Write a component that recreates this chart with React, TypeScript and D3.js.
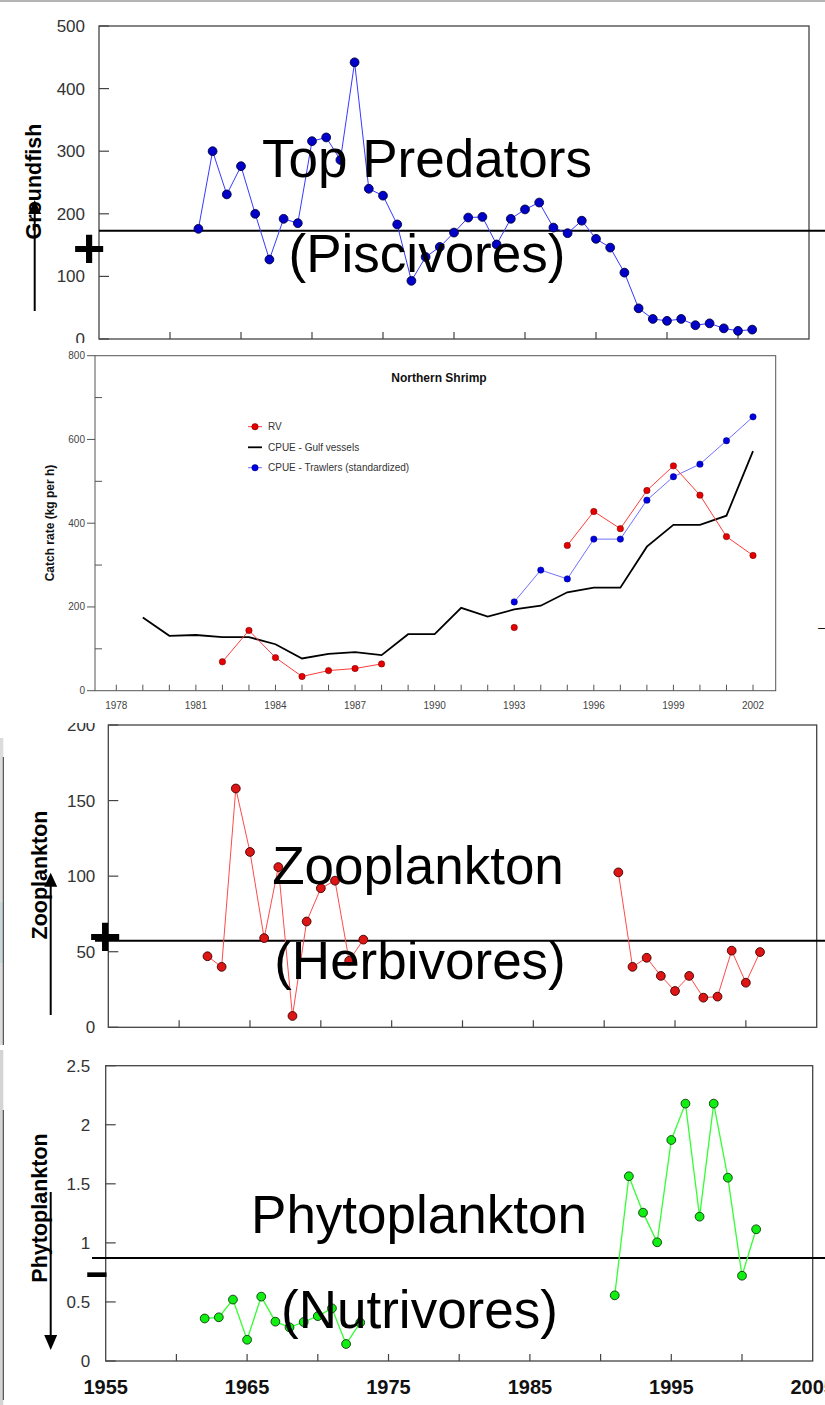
import React from "react";
import * as d3 from "d3";

const FONT = "'Liberation Sans', Arial, Helvetica, sans-serif";

// ---------- Groundfish (Top predators) ----------
const gfYears = [1962, 1963, 1964, 1965, 1966, 1967, 1968, 1969, 1970, 1971, 1972, 1973, 1974, 1975, 1976, 1977, 1978, 1979, 1980, 1981, 1982, 1983, 1984, 1985, 1986, 1987, 1988, 1989, 1990, 1991, 1992, 1993, 1994, 1995, 1996, 1997, 1998, 1999, 2000, 2001];
const gfValues = [176, 300, 231, 276, 200, 127, 192, 185, 316, 322, 286, 442, 240, 229, 183, 93, 131, 147, 170, 194, 195, 151, 192, 207, 218, 178, 169, 189, 160, 146, 106, 49, 32, 29, 32, 22, 25, 17, 13, 15];
const gfMean = 173;
const gfYTicks = [0, 100, 200, 300, 400, 500];

// ---------- Northern shrimp ----------
const shrimpGulfYears = [1979, 1980, 1981, 1982, 1983, 1984, 1985, 1986, 1987, 1988, 1989, 1990, 1991, 1992, 1993, 1994, 1995, 1996, 1997, 1998, 1999, 2000, 2001, 2002];
const shrimpGulfValues = [175, 131, 133, 128, 128, 111, 77, 88, 92, 85, 135, 135, 198, 177, 194, 203, 235, 246, 246, 344, 396, 396, 418, 572];
const shrimpRVYears = [1982, 1983, 1984, 1985, 1986, 1987, 1988, 1993, 1995, 1996, 1997, 1998, 1999, 2000, 2001, 2002];
const shrimpRVValues = [69, 144, 79, 34, 48, 53, 64, 151, 347, 428, 387, 478, 537, 467, 368, 323];
const shrimpTrawlYears = [1993, 1994, 1995, 1996, 1997, 1998, 1999, 2000, 2001, 2002];
const shrimpTrawlValues = [212, 288, 267, 362, 362, 455, 511, 541, 597, 654];
const shrimpYMajor = [0, 200, 400, 600, 800];
const shrimpYMinor = [100, 300, 500, 700];
const shrimpXTickYears = [1978, 1979, 1980, 1981, 1982, 1983, 1984, 1985, 1986, 1987, 1988, 1989, 1990, 1991, 1992, 1993, 1994, 1995, 1996, 1997, 1998, 1999, 2000, 2001, 2002];
const shrimpXLabelYears = [1978, 1981, 1984, 1987, 1990, 1993, 1996, 1999, 2002];
const shrimpLegend = ["RV", "CPUE - Gulf vessels", "CPUE - Trawlers (standardized)"];

// ---------- Zooplankton ----------
const zooYears = [1962, 1963, 1964, 1965, 1966, 1967, 1968, 1969, 1970, 1971, 1972, 1973, 1991, 1992, 1993, 1994, 1995, 1996, 1997, 1998, 1999, 2000, 2001];
const zooValues = [47, 40, 158, 116, 59, 106, 7.5, 70, 92, 97, 44, 58, 102.5, 40, 46, 34, 24, 34, 19.6, 20.3, 50.7, 29.5, 49.8];
const zooMean = 57.3;
const zooYTicks = [0, 50, 100, 150, 200];

// ---------- Phytoplankton ----------
const phyYears = [1962, 1963, 1964, 1965, 1966, 1967, 1968, 1969, 1970, 1971, 1972, 1973, 1991, 1992, 1993, 1994, 1995, 1996, 1997, 1998, 1999, 2000, 2001];
const phyValues = [0.36, 0.37, 0.52, 0.18, 0.545, 0.333, 0.285, 0.33, 0.38, 0.446, 0.144, 0.325, 0.556, 1.564, 1.256, 1.005, 1.871, 2.179, 1.222, 2.179, 1.552, 0.722, 1.115];
const phyMean = 0.872;
const phyYTicks = [0, 0.5, 1, 1.5, 2, 2.5];

const yearDomain = [1955, 2005];
const fiveYearTicks = [1960, 1965, 1970, 1975, 1980, 1985, 1990, 1995, 2000];
const decadeLabels = [1955, 1965, 1975, 1985, 1995, 2005];

function segments(years: number[], values: number[]) {
  const segs: [number, number][][] = [];
  let cur: [number, number][] = [];
  years.forEach((y, i) => {
    if (cur.length && y - cur[cur.length - 1][0] > 1) {
      segs.push(cur);
      cur = [];
    }
    cur.push([y, values[i]]);
  });
  if (cur.length) segs.push(cur);
  return segs;
}

type PanelProps = {
  left: number; right: number; top: number; bottom: number;
  yDomain: [number, number]; yTicks: number[]; labelGap: number;
  years: number[]; values: number[]; mean: number; meanStart: number;
  lineColor: string; dotFill: string; dotStroke: string; lineWidth: number;
};

function TrophicPanel(p: PanelProps) {
  const x = d3.scaleLinear().domain(yearDomain).range([p.left, p.right]);
  const y = d3.scaleLinear().domain(p.yDomain).range([p.bottom, p.top]);
  const line = d3.line<[number, number]>().x((d) => x(d[0])).y((d) => y(d[1]));
  const segs = segments(p.years, p.values);
  return (
    <g>
      <rect x={p.left} y={p.top} width={p.right - p.left} height={p.bottom - p.top} fill="none" stroke="#444" strokeWidth={1.3} />
      {p.yTicks.map((t) => (
        <g key={"y" + t}>
          <line x1={p.left} x2={p.left + 10} y1={y(t)} y2={y(t)} stroke="#444" strokeWidth={1.2} />
          <text x={p.left - p.labelGap} y={y(t) + 6} textAnchor="end" fontSize={17} fill="#333" fontFamily={FONT}>{t}</text>
        </g>
      ))}
      {fiveYearTicks.map((t) => (
        <line key={"x" + t} x1={x(t)} x2={x(t)} y1={p.bottom} y2={p.bottom - 7} stroke="#444" strokeWidth={1.2} />
      ))}
      <line x1={p.meanStart} x2={825} y1={y(p.mean)} y2={y(p.mean)} stroke="#000" strokeWidth={2} />
      {segs.map((s, i) => (
        <path key={"l" + i} d={line(s) || ""} fill="none" stroke={p.lineColor} strokeWidth={p.lineWidth} />
      ))}
      {p.years.map((yr, i) => (
        <circle key={"c" + yr} cx={x(yr)} cy={y(p.values[i])} r={4.4} fill={p.dotFill} stroke={p.dotStroke} strokeWidth={0.9} />
      ))}
    </g>
  );
}

function ShrimpPanel() {
  const left = 95, right = 775.7, top = 355.7, bottom = 690.7;
  const x = d3.scaleLinear().domain([1978, 2002]).range([116.3, 753]);
  const y = d3.scaleLinear().domain([0, 800]).range([bottom, top]);
  const line = d3.line<[number, number]>().x((d) => x(d[0])).y((d) => y(d[1]));
  const rvSegs = segments(shrimpRVYears, shrimpRVValues);
  const trSegs = segments(shrimpTrawlYears, shrimpTrawlValues);
  const gulf = shrimpGulfYears.map((yr, i) => [yr, shrimpGulfValues[i]] as [number, number]);
  const legendY = [426.7, 447.3, 467.7];
  return (
    <g>
      <rect x={0} y={343} width={800} height={380} fill="#fff" />
      <rect x={left} y={top} width={right - left} height={bottom - top} fill="none" stroke="#555" strokeWidth={1} />
      {shrimpYMajor.map((t) => (
        <g key={"ym" + t}>
          <line x1={left - 8} x2={left} y1={y(t)} y2={y(t)} stroke="#555" strokeWidth={1} />
          <text x={left - 10} y={y(t) + 3.5} textAnchor="end" fontSize={10} fill="#444" fontFamily={FONT}>{t}</text>
        </g>
      ))}
      {shrimpYMinor.map((t) => (
        <line key={"yn" + t} x1={left} x2={left + 7} y1={y(t)} y2={y(t)} stroke="#555" strokeWidth={1} />
      ))}
      {shrimpXTickYears.map((t) => (
        <line key={"xt" + t} x1={x(t)} x2={x(t)} y1={bottom} y2={bottom - 6} stroke="#555" strokeWidth={1} />
      ))}
      {shrimpXLabelYears.map((t) => (
        <text key={"xl" + t} x={x(t)} y={709} textAnchor="middle" fontSize={10} fill="#444" fontFamily={FONT}>{t}</text>
      ))}
      <text x={439} y={381.5} textAnchor="middle" fontSize={12} fontWeight="bold" fill="#111" fontFamily={FONT}>Northern Shrimp</text>
      <text transform="translate(54,523) rotate(-90)" textAnchor="middle" fontSize={12} fontWeight="bold" fill="#111" fontFamily={FONT}>Catch rate (kg per h)</text>
      {/* series */}
      <path d={line(gulf) || ""} fill="none" stroke="#000" strokeWidth={1.8} />
      {trSegs.map((s, i) => (
        <path key={"tr" + i} d={line(s) || ""} fill="none" stroke="#7070ff" strokeWidth={1} />
      ))}
      {rvSegs.map((s, i) => (
        <path key={"rv" + i} d={line(s) || ""} fill="none" stroke="#ff3b3b" strokeWidth={1} />
      ))}
      {shrimpTrawlYears.map((yr, i) => (
        <circle key={"tc" + yr} cx={x(yr)} cy={y(shrimpTrawlValues[i])} r={3.2} fill="#0000e6" stroke="#000060" strokeWidth={0.5} />
      ))}
      {shrimpRVYears.map((yr, i) => (
        <circle key={"rc" + yr} cx={x(yr)} cy={y(shrimpRVValues[i])} r={3.2} fill="#e60000" stroke="#600000" strokeWidth={0.5} />
      ))}
      {/* legend */}
      <line x1={248} x2={262} y1={legendY[0]} y2={legendY[0]} stroke="#ff3b3b" strokeWidth={1} />
      <circle cx={255} cy={legendY[0]} r={3.2} fill="#e60000" stroke="#600000" strokeWidth={0.5} />
      <line x1={248} x2={262} y1={legendY[1]} y2={legendY[1]} stroke="#000" strokeWidth={1.8} />
      <line x1={248} x2={262} y1={legendY[2]} y2={legendY[2]} stroke="#7070ff" strokeWidth={1} />
      <circle cx={255} cy={legendY[2]} r={3.2} fill="#0000e6" stroke="#000060" strokeWidth={0.5} />
      {shrimpLegend.map((s, i) => (
        <text key={s} x={268} y={legendY[i] + 3.5} fontSize={10} fill="#333" fontFamily={FONT}>{s}</text>
      ))}
    </g>
  );
}

function UpArrow({ x, tip, bottom }: { x: number; tip: number; bottom: number }) {
  return (
    <g>
      <line x1={x} x2={x} y1={bottom} y2={tip + 10} stroke="#000" strokeWidth={2} />
      <path d={`M${x},${tip} L${x - 6.5},${tip + 14} L${x + 6.5},${tip + 14} Z`} fill="#000" />
    </g>
  );
}

function DownArrow({ x, tip, top }: { x: number; tip: number; top: number }) {
  return (
    <g>
      <line x1={x} x2={x} y1={top} y2={tip - 10} stroke="#000" strokeWidth={2} />
      <path d={`M${x},${tip} L${x - 6.5},${tip - 15} L${x + 6.5},${tip - 15} Z`} fill="#000" />
    </g>
  );
}

export default function App() {
  const big = { fontSize: 53, fontFamily: FONT, fill: "#000", textAnchor: "middle" as const };
  const side = { fontSize: 21.5, fontFamily: FONT, fontWeight: "bold" as const, fill: "#000", textAnchor: "middle" as const };
  const phyX = d3.scaleLinear().domain(yearDomain).range([105.7, 812.7]);
  return (
    <svg width={825} height={1405} style={{ position: "absolute", left: 0, top: 0, display: "block" }}>
      <rect x={0} y={0} width={825} height={1405} fill="#fff" />
      <rect x={0} y={0} width={825} height={2} fill="#b4b4b4" />

      {/* Groundfish */}
      <TrophicPanel left={99} right={809} top={26} bottom={339} yDomain={[0, 500]} yTicks={gfYTicks} labelGap={14}
        years={gfYears} values={gfValues} mean={gfMean} meanStart={99}
        lineColor="#3838ff" dotFill="#0000c8" dotStroke="#000040" lineWidth={1} />
      <text x={427} y={177} {...big}>Top Predators</text>
      <text x={427} y={272} {...big}>(Piscivores)</text>
      <text transform="translate(40.5,181.5) rotate(-90)" {...side}>Groundfish</text>
      <UpArrow x={34.7} tip={200} bottom={311} />
      <text x={89} y={266.5} fontSize={56} fontWeight="bold" textAnchor="middle" fontFamily={FONT}>+</text>

      {/* Zooplankton */}
      <TrophicPanel left={108.3} right={816.7} top={725} bottom={1027.3} yDomain={[0, 200]} yTicks={zooYTicks} labelGap={13}
        years={zooYears} values={zooValues} mean={zooMean} meanStart={95}
        lineColor="#ff4a4a" dotFill="#dd1515" dotStroke="#400000" lineWidth={1} />
      <text x={418} y={884} {...big}>Zooplankton</text>
      <text x={420} y={979} {...big}>(Herbivores)</text>
      <text transform="translate(46.5,875) rotate(-90)" {...side}>Zooplankton</text>
      <UpArrow x={50.7} tip={872.7} bottom={1015} />
      <text x={105} y={954.5} fontSize={56} fontWeight="bold" textAnchor="middle" fontFamily={FONT}>+</text>

      {/* Phytoplankton */}
      <TrophicPanel left={105.7} right={812.7} top={1065.7} bottom={1361} yDomain={[0, 2.5]} yTicks={phyYTicks} labelGap={15.5}
        years={phyYears} values={phyValues} mean={phyMean} meanStart={92}
        lineColor="#33ff33" dotFill="#11ee11" dotStroke="#0a3a0a" lineWidth={1.3} />
      {decadeLabels.map((t) => (
        <text key={"d" + t} x={phyX(t)} y={1394} textAnchor="middle" fontSize={20} fontWeight="bold" fill="#111" fontFamily={FONT}>{t}</text>
      ))}
      <text x={419} y={1233} {...big}>Phytoplankton</text>
      <text x={419.5} y={1328} {...big}>(Nutrivores)</text>
      <text transform="translate(46.5,1208) rotate(-90)" {...side}>Phytoplankton</text>
      <DownArrow x={50.7} tip={1350} top={1192} />
      <text transform="translate(97,1284.5) scale(2,1)" fontSize={38} fontWeight="bold" textAnchor="middle" fontFamily={FONT}>-</text>

      {/* Northern shrimp inset (drawn over the panels behind it) */}
      <ShrimpPanel />
      <text x={818} y={631.8} fontSize={13} fontFamily={FONT}>–</text>

      {/* left-edge fragments of neighbouring slides */}
      <rect x={0} y={738} width={3.3} height={307} fill="#dcdcdc" />
      <rect x={0} y={902} width={3.3} height={61} fill="#c9d7db" />
      <line x1={3.3} x2={3.3} y1={757} y2={1045} stroke="#333" strokeWidth={1} />
      <rect x={0} y={1050} width={3.3} height={355} fill="#d4d4d4" />
      <line x1={3.3} x2={3.3} y1={1110} y2={1400} stroke="#333" strokeWidth={1} />
    </svg>
  );
}
